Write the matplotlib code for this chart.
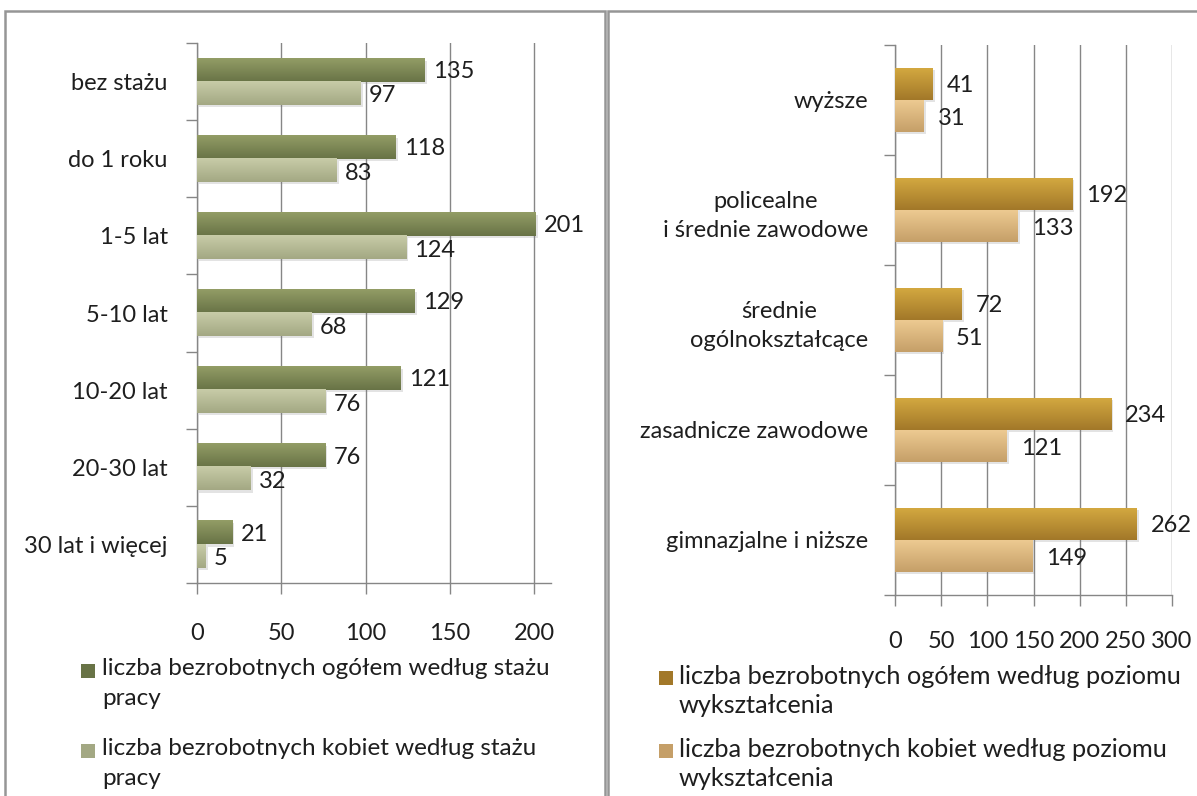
import numpy as np
import matplotlib
matplotlib.use("Agg")
import matplotlib.pyplot as plt
from matplotlib.patches import Rectangle
from matplotlib import patheffects

plt.rcParams['font.family'] = ['Lato', 'DejaVu Sans']

# dane - staż pracy
staz_kategorie = ["bez stażu", "do 1 roku", "1-5 lat", "5-10 lat",
                  "10-20 lat", "20-30 lat", "30 lat i więcej"]
staz_ogolem = [135, 118, 201, 129, 121, 76, 21]
staz_kobiety = [97, 83, 124, 68, 76, 32, 5]
staz_legenda = ["liczba bezrobotnych ogółem według stażu\npracy",
                "liczba bezrobotnych kobiet według stażu\npracy"]

# dane - poziom wykształcenia
wykszt_kategorie = ["wyższe", "policealne\ni średnie zawodowe",
                    "średnie\nogólnokształcące", "zasadnicze zawodowe",
                    "gimnazjalne i niższe"]
wykszt_ogolem = [41, 192, 72, 234, 262]
wykszt_kobiety = [31, 133, 51, 121, 149]
wykszt_legenda = ["liczba bezrobotnych ogółem według poziomu\nwykształcenia",
                  "liczba bezrobotnych kobiet według poziomu\nwykształcenia"]

# kolory (góra, dół gradientu)
zielony_ciemny = ("#939d66", "#687346")
zielony_jasny = ("#c8cca8", "#a3a883")
zloty_ciemny = ("#d3a840", "#a27829")
zloty_jasny = ("#edca91", "#c59f68")

SZARY = "#868686"
TEKST = "#1e1e1e"
FS = 17

W, H = 1197, 796
fig = plt.figure(figsize=(W / 100, H / 100), dpi=100)


def fx(px):
    return px / W


def fy(py):
    return 1 - py / H


def gradient(ax, bars, kolory):
    c1 = np.array(matplotlib.colors.to_rgb(kolory[0]))
    c2 = np.array(matplotlib.colors.to_rgb(kolory[1]))
    t = np.linspace(0, 1, 64)[:, None]
    img = (c1 * (1 - t) + c2 * t)[:, None, :]
    for b in bars:
        x0, y0, w, h = b.get_x(), b.get_y(), b.get_width(), b.get_height()
        b.set_path_effects([patheffects.SimplePatchShadow(offset=(1.5, -1.5), shadow_rgbFace="#777777", alpha=0.2),
                            patheffects.Normal()])
        ax.imshow(img, extent=(x0, x0 + w, y0 + h, y0), aspect='auto', zorder=3, interpolation='bilinear')


def panel(ax, kategorie, ogolem, kobiety, xmax, wys, kol1, kol2, off, ypad, xpad):
    n = len(kategorie)
    y = np.arange(n)
    b1 = ax.barh(y - wys / 2, ogolem, height=wys, color=kol1[1], zorder=2)
    b2 = ax.barh(y + wys / 2, kobiety, height=wys, color=kol2[1], zorder=2)
    gradient(ax, b1, kol1)
    gradient(ax, b2, kol2)

    for yy, v in zip(y - wys / 2, ogolem):
        ax.annotate(str(v), xy=(v, yy), xytext=(off, -1), textcoords='offset points',
                    va='center', ha='left', fontsize=FS, color=TEKST)
    for yy, v in zip(y + wys / 2, kobiety):
        ax.annotate(str(v), xy=(v, yy), xytext=(off, -2), textcoords='offset points',
                    va='center', ha='left', fontsize=FS, color=TEKST)

    ticks = np.arange(0, xmax + 1, 50)
    ax.set_xlim(0, xmax)
    ax.set_xticks(ticks[ticks <= xmax])
    ax.set_ylim(n - 0.5, -0.5)
    ax.set_yticks(np.arange(-0.5, n, 1.0))
    ax.set_yticklabels([])
    ax.set_yticks(y, labels=kategorie, minor=True)
    for lbl in ax.get_yticklabels(minor=True):
        lbl.set_multialignment('center')
        lbl.set_linespacing(1.45)

    ax.tick_params(axis='y', which='major', length=8, color=SZARY, width=1)
    ax.tick_params(axis='y', which='minor', length=0, pad=ypad, labelsize=FS, labelcolor=TEKST)
    ax.tick_params(axis='x', length=8, color=SZARY, width=1, pad=xpad, labelsize=FS, labelcolor=TEKST)

    ax.grid(axis='x', color=SZARY, lw=1)
    ax.set_axisbelow(True)
    for s in ['top', 'right']:
        ax.spines[s].set_visible(False)
    for s in ['left', 'bottom']:
        ax.spines[s].set_color(SZARY)
        ax.spines[s].set_linewidth(1)


def legenda(x_kw, x_txt, y_lin, teksty, kolory, fs, ls):
    for yl, t, k in zip(y_lin, teksty, kolory):
        fig.add_artist(Rectangle((fx(x_kw), fy(yl + 7)), 14 / W, 14 / H, transform=fig.transFigure,
                                 facecolor=k[1], edgecolor='none'))
        fig.text(fx(x_txt), fy(yl - 13), t, fontsize=fs, color=TEKST, va='top', ha='left', linespacing=ls)


# lewy wykres - staż pracy
ax1 = fig.add_axes([fx(197), fy(583), (551 - 197) / W, (583 - 43) / H])
panel(ax1, staz_kategorie, staz_ogolem, staz_kobiety, 210, 0.3,
      zielony_ciemny, zielony_jasny, 6, 21, 21)
legenda(81, 102, [671, 751], staz_legenda, [zielony_ciemny, zielony_jasny], 17.5, 1.55)

# prawy wykres - wykształcenie
ax2 = fig.add_axes([fx(895), fy(595), (1172 - 895) / W, (595 - 45) / H])
panel(ax2, wykszt_kategorie, wykszt_ogolem, wykszt_kobiety, 300, 0.29,
      zloty_ciemny, zloty_jasny, 10, 19, 18)
legenda(659, 679, [678, 751], wykszt_legenda, [zloty_ciemny, zloty_jasny], 18.2, 1.3)

# ramki paneli
fig.add_artist(Rectangle((fx(5), -0.1), (605 - 5) / W, fy(11) + 0.1, transform=fig.transFigure,
                         fill=False, edgecolor="#969696", lw=1.8))
fig.add_artist(Rectangle((fx(608), -0.1), 1.0, fy(11) + 0.1, transform=fig.transFigure,
                         fill=False, edgecolor="#969696", lw=1.8))

fig.savefig("out.png", dpi=100)
